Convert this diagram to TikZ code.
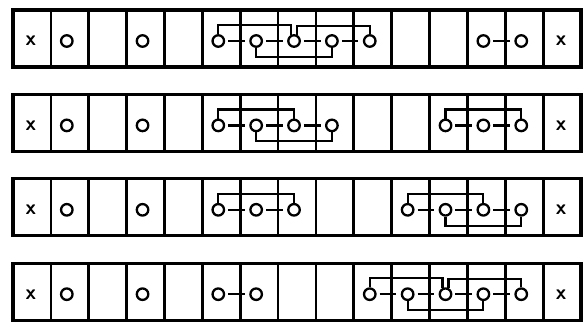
\documentclass[tikz,border=0pt]{standalone}
\usepackage{tikz}
\usetikzlibrary{positioning,calc}

\tikzset{
  ring/.style={circle,draw,line width=2.3pt,minimum size=11.5pt,inner sep=0pt},
  cross/.style={font=\sffamily\bfseries\fontsize{21}{21}\selectfont,inner sep=0pt},
  bond/.style={line width=2.2pt},
  stub/.style={bond,shorten <=3pt,shorten >=4.5pt},
  wall/.style={line width=2.7pt},
  frame/.style={line width=3.3pt},
}
% cell width and row pitch (in pt)
\newcommand{\cellw}{37.87}
\newcommand{\pitch}{84.4}
\newcommand{\ring}[2]{\node[ring] (r#1c#2) at ({13+(#2-0.5)*\cellw-3},{10+\pitch*(#1-1)+31}) {};}
\newcommand{\upperlink}[2]{\draw[bond] (#1) -- ++(0,-9) -| (#2);}
\newcommand{\lowerlink}[2]{\draw[bond] (#1) -- ++(0,9) -| (#2);}

\begin{document}
\begin{tikzpicture}[x=1pt,y=-1pt]
\useasboundingbox (0,0) rectangle (583,321);

% the four strips
\foreach \r in {1,...,4}{
  \pgfmathsetmacro{\rtop}{10+\pitch*(\r-1)}
  \draw[frame] (13,\rtop) rectangle (581,\rtop+57);
  \foreach \k in {1,...,14}
    \draw[wall] (13+\k*\cellw,\rtop) -- (13+\k*\cellw,\rtop+57);
  \node[cross] (x\r l) at (13+0.5*\cellw-1,\rtop+31) {x};
  \node[cross] (x\r r) at (13+14.5*\cellw-1,\rtop+31) {x};
}

% rings
\foreach \c in {2,4,6,7,8,9,10,13,14} {\ring{1}{\c}}
\foreach \c in {2,4,6,7,8,9,12,13,14} {\ring{2}{\c}}
\foreach \c in {2,4,6,7,8,11,12,13,14} {\ring{3}{\c}}
\foreach \c in {2,4,6,7,10,11,12,13,14} {\ring{4}{\c}}

% bonds between neighbours
\foreach \a/\b in {6/7,7/8,8/9,9/10,13/14} \draw[stub] (r1c\a) -- (r1c\b);
\foreach \a/\b in {6/7,7/8,8/9,12/13,13/14} \draw[stub] (r2c\a) -- (r2c\b);
\foreach \a/\b in {6/7,7/8,11/12,12/13,13/14} \draw[stub] (r3c\a) -- (r3c\b);
\foreach \a/\b in {6/7,10/11,11/12,12/13,13/14} \draw[stub] (r4c\a) -- (r4c\b);

% brackets
\upperlink{r1c6.north}{r1c8.115}
\upperlink{r1c8.65}{r1c10.north}
\lowerlink{r1c7.south}{r1c9.south}

\upperlink{r2c6.north}{r2c8.north}
\lowerlink{r2c7.south}{r2c9.south}
\upperlink{r2c12.north}{r2c14.north}

\upperlink{r3c6.north}{r3c8.north}
\upperlink{r3c11.north}{r3c13.north}
\lowerlink{r3c12.south}{r3c14.south}

\upperlink{r4c10.north}{r4c12.115}
\upperlink{r4c12.65}{r4c14.north}
\lowerlink{r4c11.south}{r4c13.south}
\end{tikzpicture}
\end{document}
